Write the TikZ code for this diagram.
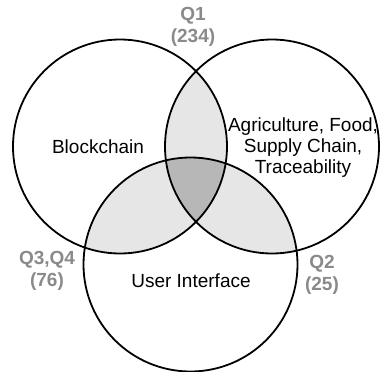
\documentclass[tikz,border=0pt]{standalone}
\usepackage{fontspec}
\setmainfont{Liberation Sans}
\usepackage{tikz}
\definecolor{pairfill}{HTML}{E6E6E6}
\definecolor{tripfill}{HTML}{B7B7B7}
\definecolor{qgray}{HTML}{8A8A8A}

\begin{document}
\begin{tikzpicture}[x=1pt,y=-1pt,
  ring/.style={line width=1.8pt},
  areatext/.style={font=\fontsize{19}{21}\selectfont, align=center, inner sep=0pt},
  qtext/.style={font=\bfseries\fontsize{19}{22}\selectfont, text=qgray, align=center, inner sep=0pt}]
\useasboundingbox (0,0) rectangle (381,372);

% Centros de los circulos
\coordinate (bc) at (120,146.5);
\coordinate (ag) at (272,146.5);
\coordinate (ui) at (190.5,264.5);

% Intersecciones de dos
\begin{scope}
  \clip (bc) circle[radius=107pt];
  \fill[pairfill] (ag) circle[radius=107pt];
  \fill[pairfill] (ui) circle[radius=107pt];
\end{scope}
\begin{scope}
  \clip (ag) circle[radius=107pt];
  \fill[pairfill] (ui) circle[radius=107pt];
\end{scope}

% Interseccion de los tres
\begin{scope}
  \clip (bc) circle[radius=107pt];
  \clip (ag) circle[radius=107pt];
  \fill[tripfill] (ui) circle[radius=107pt];
\end{scope}

% Circulos
\draw[ring] (bc) circle[radius=107pt];
\draw[ring] (ag) circle[radius=107pt];
\draw[ring] (ui) circle[radius=107pt];

% Textos
\node[areatext] (blockchain) at (98,147) {Blockchain};
\node[areatext] (agri) at (303,148) {Agriculture, Food,\\Supply Chain,\\Traceability};
\node[areatext] (user) at (191,281) {User Interface};

% Cuartiles
\node[qtext] (q1) at (193,27) {Q1\\(234)};
\node[qtext] (q34) at (47,271) {Q3,Q4\\(76)};
\node[qtext] (q2) at (322,274.5) {Q2\\(25)};
\end{tikzpicture}
\end{document}
